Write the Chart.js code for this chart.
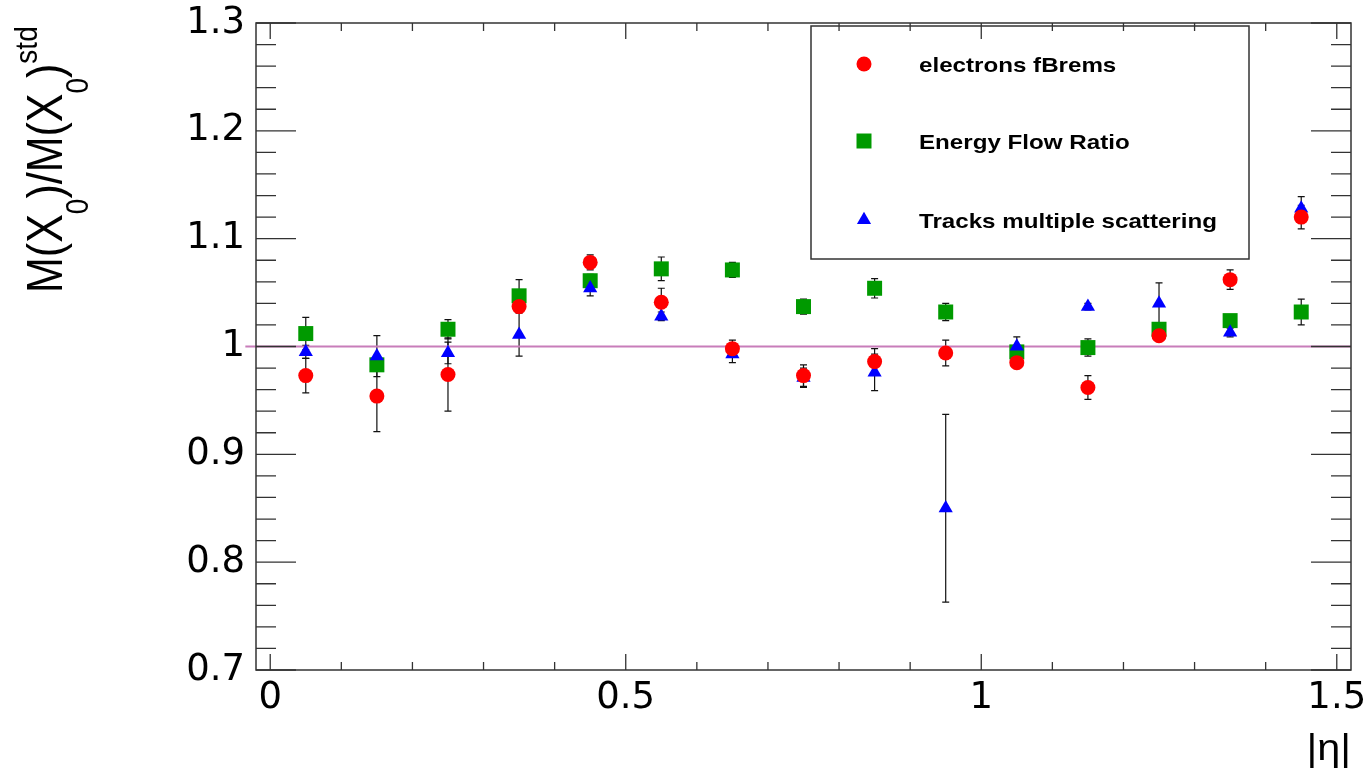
<!DOCTYPE html>
<html>
<head>
<meta charset="utf-8">
<title>M(X0)/M(X0)std vs |eta|</title>
<script src="https://cdn.jsdelivr.net/npm/chart.js@4.4.1/dist/chart.umd.min.js"></script>
<style>
  html, body { margin: 0; padding: 0; background: #fff; }
  #wrap { width: 1372px; height: 770px; }
</style>
</head>
<body>
<div id="wrap"><canvas id="x0Chart" width="1372" height="770"></canvas></div>
<script>
// |eta| bin centres
const etaBins = [0.05, 0.15, 0.25, 0.35, 0.45, 0.55, 0.65, 0.75, 0.85, 0.95, 1.05, 1.15, 1.25, 1.35, 1.45];

// electrons fBrems
const bremsRatio = [0.973, 0.954, 0.974, 1.037, 1.078, 1.041, 0.998, 0.973, 0.986, 0.994, 0.985, 0.962, 1.010, 1.062, 1.120];
const bremsErr   = [0.016, 0.033, 0.034, 0.005, 0.007, 0.013, 0.008, 0.010, 0.012, 0.012, 0.004, 0.011, 0.004, 0.009, 0.011];

// energy flow ratio
const eflowRatio = [1.012, 0.983, 1.016, 1.047, 1.061, 1.072, 1.071, 1.037, 1.054, 1.032, 0.995, 0.999, 1.016, 1.024, 1.032];
const eflowErr   = [0.015, 0.004, 0.009, 0.015, 0.006, 0.011, 0.007, 0.007, 0.009, 0.008, 0.004, 0.008, 0.005, 0.004, 0.012];

// tracks multiple scattering
const tracksRatio = [0.995, 0.991, 0.994, 1.011, 1.054, 1.028, 0.993, 0.971, 0.976, 0.850, 1.000, 1.037, 1.040, 1.013, 1.128];
const tracksErr   = [0.006, 0.019, 0.010, 0.020, 0.007, 0.004, 0.008, 0.009, 0.017, 0.087, 0.009, 0.003, 0.019, 0.004, 0.011];

const seriesNames = ["electrons fBrems", "Energy Flow Ratio", "Tracks multiple scattering"];

const xTickValues = [0, 0.5, 1, 1.5];
const xTickLabels = ["0", "0.5", "1", "1.5"];
const yTickValues = [0.7, 0.8, 0.9, 1.0, 1.1, 1.2, 1.3];
const yTickLabels = ["0.7", "0.8", "0.9", "1", "1.1", "1.2", "1.3"];

// reference line at ratio = 1
const refLineX = [-0.035, 1.52];
const refLineY = 1;

function toPoints(ys) {
    return etaBins.map(function(x, i) { return { x: x, y: ys[i] }; });
}

// minor ticks: 5 divisions per major interval
function minorTicks(majors) {
    var out = [];
    for (var i = 0; i < majors.length - 1; i++) {
        var step = (majors[i + 1] - majors[i]) / 5;
        for (var k = 1; k < 5; k++) out.push(majors[i] + k * step);
    }
    return out;
}
const xMinor = minorTicks(xTickValues);
const yMinor = minorTicks(yTickValues);

// same shapes as chart.js point styles
function drawMarker(ctx, style, r, x, y, color) {
    ctx.fillStyle = color;
    ctx.beginPath();
    if (style === "circle") {
        ctx.arc(x, y, r, 0, Math.PI * 2);
    } else if (style === "rect") {
        var s = Math.SQRT1_2 * r;
        ctx.rect(x - s, y - s, 2 * s, 2 * s);
    } else {
        var a = 0;
        ctx.moveTo(x + Math.sin(a) * r, y - Math.cos(a) * r);
        a += 2 * Math.PI / 3;
        ctx.lineTo(x + Math.sin(a) * r, y - Math.cos(a) * r);
        a += 2 * Math.PI / 3;
        ctx.lineTo(x + Math.sin(a) * r, y - Math.cos(a) * r);
        ctx.closePath();
    }
    ctx.fill();
}

const rootStyle = {
    id: "rootStyle",
    beforeDatasetsDraw(chart) {
        // vertical error bars with end caps
        const ctx = chart.ctx, xs = chart.scales.x, ys = chart.scales.y;
        ctx.save();
        ctx.strokeStyle = "#111";
        ctx.lineWidth = 1.2;
        chart.data.datasets.forEach(function(ds) {
            if (!ds.errors) return;
            ds.data.forEach(function(p, i) {
                var e = ds.errors[i];
                var px = xs.getPixelForValue(p.x);
                var t = ys.getPixelForValue(p.y + e);
                var b = ys.getPixelForValue(p.y - e);
                ctx.beginPath();
                ctx.moveTo(px, t); ctx.lineTo(px, b);
                ctx.moveTo(px - 3.5, t); ctx.lineTo(px + 3.5, t);
                ctx.moveTo(px - 3.5, b); ctx.lineTo(px + 3.5, b);
                ctx.stroke();
            });
        });
        ctx.restore();
    },
    afterDatasetsDraw(chart) {
        // frame and inward ticks on all four sides
        const ctx = chart.ctx, xs = chart.scales.x, ys = chart.scales.y;
        const a = chart.chartArea;
        ctx.save();
        ctx.strokeStyle = "#333";
        ctx.lineWidth = 1.5;
        ctx.strokeRect(a.left, a.top, a.right - a.left, a.bottom - a.top);
        ctx.lineWidth = 1.3;
        ctx.beginPath();
        function xt(v, len) {
            var px = xs.getPixelForValue(v);
            ctx.moveTo(px, a.bottom); ctx.lineTo(px, a.bottom - len);
            ctx.moveTo(px, a.top); ctx.lineTo(px, a.top + len);
        }
        function yt(v, len) {
            var py = ys.getPixelForValue(v);
            ctx.moveTo(a.left, py); ctx.lineTo(a.left + len, py);
            ctx.moveTo(a.right, py); ctx.lineTo(a.right - len, py);
        }
        xTickValues.forEach(function(v) { xt(v, 16); });
        xMinor.forEach(function(v) { xt(v, 8); });
        yTickValues.forEach(function(v) { yt(v, 40); });
        yMinor.forEach(function(v) { yt(v, 20); });
        ctx.stroke();
        ctx.restore();
    },
    afterDraw(chart) {
        const ctx = chart.ctx;
        ctx.save();

        // legend box
        ctx.strokeStyle = "#333";
        ctx.lineWidth = 1.5;
        ctx.strokeRect(811, 26, 438, 233);
        var rowY = [64, 141, 220];
        ctx.font = 'bold 21px "Liberation Sans", Arial, sans-serif';
        ctx.textBaseline = "alphabetic";
        chart.data.datasets.slice(0, 3).forEach(function(ds, i) {
            drawMarker(ctx, ds.pointStyle, ds.pointRadius, 864, rowY[i], ds.pointBackgroundColor);
            ctx.save();
            ctx.translate(919, rowY[i] + 7.5);
            ctx.scale(1.15, 1);
            ctx.fillStyle = "#000";
            ctx.fillText(seriesNames[i], 0, 0);
            ctx.restore();
        });

        // x title
        ctx.save();
        ctx.fillStyle = "#000";
        ctx.font = '37px "Liberation Sans", Arial, sans-serif';
        ctx.textAlign = "right";
        ctx.translate(1351, 760);
        ctx.scale(1.12, 1);
        ctx.fillText("|\u03b7|", 0, 0);
        ctx.restore();

        // y title: M(X_0)/M(X_0)^std, rotated
        ctx.save();
        ctx.fillStyle = "#000";
        ctx.translate(62, 293);
        ctx.scale(1.15, 1);
        ctx.rotate(-Math.PI / 2);
        var big = '43px "Liberation Sans", Arial, sans-serif';
        var small = '28px "Liberation Sans", Arial, sans-serif';
        var parts = [
            { t: "M(X", f: big, dy: 0 },
            { t: "0", f: small, dy: 22.6 },
            { t: ")/M(X", f: big, dy: 0 },
            { t: "0", f: small, dy: 22.6 },
            { t: ")", f: big, dy: 0 },
            { t: "std", f: small, dy: -21.7 }
        ];
        var cx = 0;
        parts.forEach(function(p) {
            ctx.font = p.f;
            ctx.fillText(p.t, cx, p.dy);
            cx += ctx.measureText(p.t).width;
        });
        ctx.restore();

        ctx.restore();
    }
};

const tickFont = { family: "DejaVu Sans", size: 37 };

new Chart(document.getElementById("x0Chart"), {
    type: "scatter",
    data: {
        datasets: [
            { label: seriesNames[0], data: toPoints(bremsRatio), errors: bremsErr,
              pointStyle: "circle", pointRadius: 7.5, pointHoverRadius: 7.5,
              pointBackgroundColor: "#ff0000", pointBorderWidth: 0, order: 1 },
            { label: seriesNames[1], data: toPoints(eflowRatio), errors: eflowErr,
              pointStyle: "rect", pointRadius: 10.6, pointHoverRadius: 10.6,
              pointBackgroundColor: "#009a00", pointBorderWidth: 0, order: 3 },
            { label: seriesNames[2], data: toPoints(tracksRatio), errors: tracksErr,
              pointStyle: "triangle", pointRadius: 8.2, pointHoverRadius: 8.2,
              pointBackgroundColor: "#0000ff", pointBorderWidth: 0, order: 2 },
            { type: "line", label: "ref", data: refLineX.map(function(x) { return { x: x, y: refLineY }; }),
              showLine: true, borderColor: "#c87dba", borderWidth: 2, pointRadius: 0,
              clip: false, order: 4 }
        ]
    },
    options: {
        responsive: false,
        animation: false,
        events: [],
        layout: { autoPadding: false, padding: { top: 23, right: 21, bottom: 0, left: 0 } },
        plugins: { legend: { display: false }, tooltip: { enabled: false } },
        scales: {
            x: {
                type: "linear", min: -0.02, max: 1.52,
                grid: { display: false, drawTicks: false },
                border: { display: false },
                afterBuildTicks: function(s) { s.ticks = xTickValues.map(function(v) { return { value: v }; }); },
                afterFit: function(s) { s.height = 100; s.paddingLeft = 0; s.paddingRight = 0; },
                ticks: { autoSkip: false, maxRotation: 0, padding: 6, color: "#000", font: tickFont,
                         callback: function(v, i) { return xTickLabels[i]; } }
            },
            y: {
                type: "linear", min: 0.7, max: 1.3,
                grid: { display: false, drawTicks: false },
                border: { display: false },
                afterBuildTicks: function(s) { s.ticks = yTickValues.map(function(v) { return { value: v }; }); },
                afterFit: function(s) { s.width = 256; s.paddingTop = 0; s.paddingBottom = 0; },
                ticks: { autoSkip: false, padding: 11, color: "#000", font: tickFont,
                         callback: function(v, i) { return yTickLabels[i]; } }
            }
        }
    },
    plugins: [rootStyle]
});
</script>
</body>
</html>
